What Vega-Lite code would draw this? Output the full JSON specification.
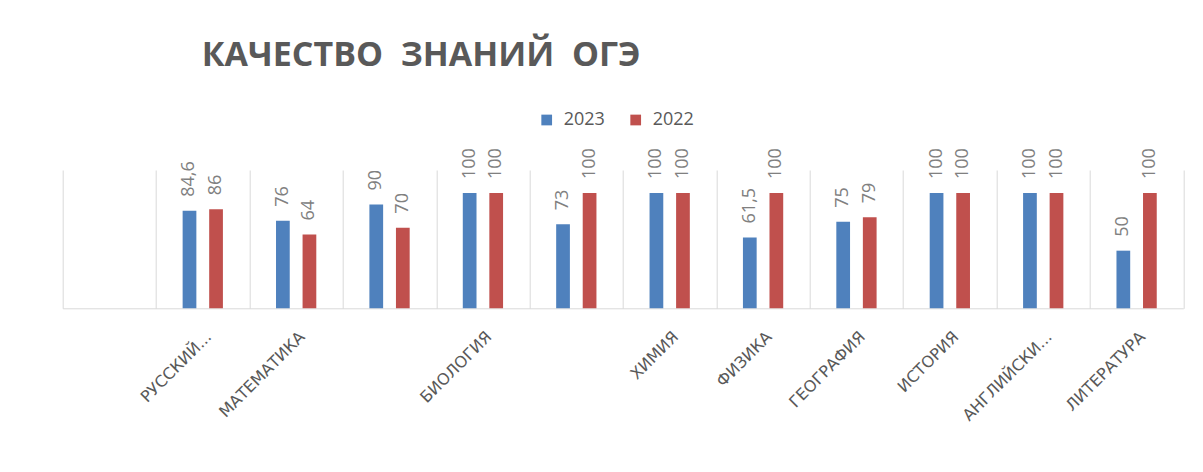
{
  "$schema": "https://vega.github.io/schema/vega-lite/v6.json",
  "autosize": {"type": "none"},
  "width": 1120.6,
  "height": 138.3,
  "padding": {"left": 62.7, "top": 170, "right": 19.7, "bottom": 163.7},
  "background": "white",
  "config": {
    "view": {"stroke": null},
    "locale": {"number": {"decimal": ",", "thousands": " ", "grouping": [3], "currency": ["", ""]}}
  },
  "title": {
    "text": "КАЧЕСТВО \u00a0ЗНАНИЙ \u00a0ОГЭ",
    "anchor": "start",
    "frame": "group",
    "orient": "top",
    "dx": 139,
    "offset": 11,
    "baseline": "alphabetic",
    "font": "Open Sans",
    "fontSize": 34,
    "fontWeight": "bold",
    "color": "#595959"
  },
  "data": {
    "values": [
      {"subject": "РУССКИЙ...", "year": "2023", "value": 84.6},
      {"subject": "РУССКИЙ...", "year": "2022", "value": 86},
      {"subject": "МАТЕМАТИКА", "year": "2023", "value": 76},
      {"subject": "МАТЕМАТИКА", "year": "2022", "value": 64},
      {"subject": " ", "year": "2023", "value": 90},
      {"subject": " ", "year": "2022", "value": 70},
      {"subject": "БИОЛОГИЯ", "year": "2023", "value": 100},
      {"subject": "БИОЛОГИЯ", "year": "2022", "value": 100},
      {"subject": "  ", "year": "2023", "value": 73},
      {"subject": "  ", "year": "2022", "value": 100},
      {"subject": "ХИМИЯ", "year": "2023", "value": 100},
      {"subject": "ХИМИЯ", "year": "2022", "value": 100},
      {"subject": "ФИЗИКА", "year": "2023", "value": 61.5},
      {"subject": "ФИЗИКА", "year": "2022", "value": 100},
      {"subject": "ГЕОГРАФИЯ", "year": "2023", "value": 75},
      {"subject": "ГЕОГРАФИЯ", "year": "2022", "value": 79},
      {"subject": "ИСТОРИЯ", "year": "2023", "value": 100},
      {"subject": "ИСТОРИЯ", "year": "2022", "value": 100},
      {"subject": "АНГЛИЙСКИ...", "year": "2023", "value": 100},
      {"subject": "АНГЛИЙСКИ...", "year": "2022", "value": 100},
      {"subject": "ЛИТЕРАТУРА", "year": "2023", "value": 50},
      {"subject": "ЛИТЕРАТУРА", "year": "2022", "value": 100}
    ]
  },
  "encoding": {
    "x": {
      "field": "subject",
      "type": "nominal",
      "sort": null,
      "scale": {
        "domain": ["", "РУССКИЙ...", "МАТЕМАТИКА", " ", "БИОЛОГИЯ", "  ", "ХИМИЯ", "ФИЗИКА", "ГЕОГРАФИЯ", "ИСТОРИЯ", "АНГЛИЙСКИ...", "ЛИТЕРАТУРА"],
        "paddingInner": 0,
        "paddingOuter": 0
      },
      "axis": {
        "title": null,
        "tickBand": "extent",
        "ticks": false,
        "grid": true,
        "gridColor": "#d9d9d9",
        "gridWidth": 1,
        "domainColor": "#d9d9d9",
        "domainWidth": 1,
        "labelAngle": -45,
        "labelAlign": "right",
        "labelBaseline": "top",
        "labelPadding": 20,
        "labelFont": "DejaVu Sans",
        "labelFontSize": 16,
        "labelColor": "#595959",
        "labelLimit": 300
      }
    },
    "xOffset": {
      "field": "year",
      "type": "nominal",
      "sort": ["2023", "2022"],
      "scale": {"paddingInner": 0.483, "paddingOuter": 1.187}
    },
    "y": {
      "field": "value",
      "type": "quantitative",
      "scale": {"domain": [0, 120], "nice": false, "zero": true},
      "axis": null
    }
  },
  "layer": [
    {
      "mark": {"type": "bar"},
      "encoding": {
        "color": {
          "field": "year",
          "type": "nominal",
          "sort": ["2023", "2022"],
          "scale": {"domain": ["2023", "2022"], "range": ["#4F81BD", "#C0504D"]},
          "legend": {
            "title": null,
            "orient": "none",
            "direction": "horizontal",
            "legendX": 475,
            "legendY": -59,
            "padding": 0,
            "symbolType": "square",
            "symbolSize": 115,
            "symbolStrokeWidth": 0,
            "labelFont": "Open Sans",
            "labelFontSize": 18,
            "labelColor": "#595959",
            "labelOffset": 8,
            "columnPadding": 21
          }
        }
      }
    },
    {
      "mark": {
        "type": "text",
        "angle": -90,
        "align": "left",
        "baseline": "middle",
        "dx": 14,
        "font": "Open Sans",
        "fontSize": 18,
        "color": "#808080"
      },
      "encoding": {
        "text": {"field": "value", "type": "quantitative", "format": "~g"}
      }
    }
  ]
}
